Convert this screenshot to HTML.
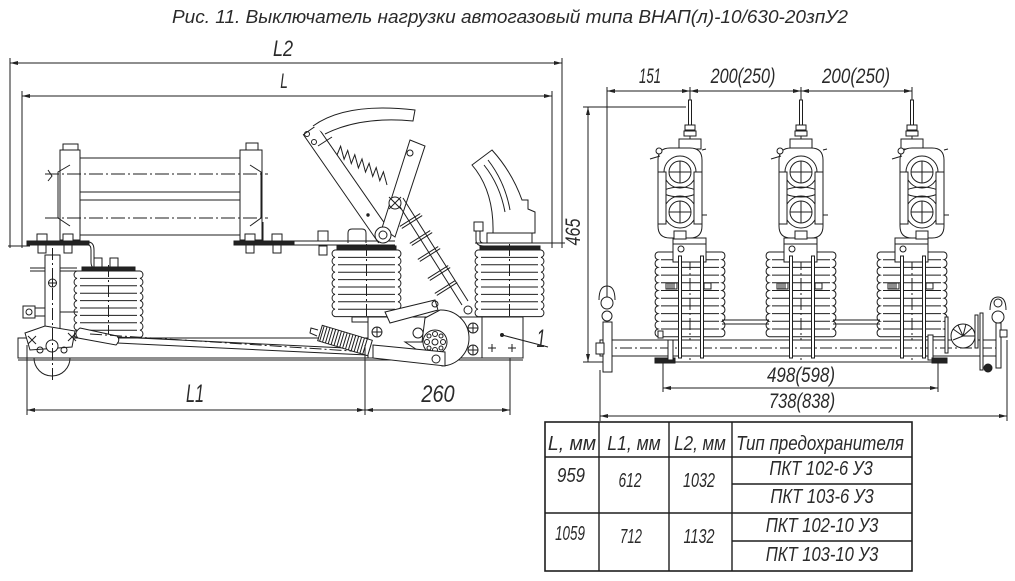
<!DOCTYPE html>
<html><head><meta charset="utf-8"><style>
html,body{margin:0;padding:0;background:#fff;}
svg{display:block}
.t text{font-family:"Liberation Sans","DejaVu Sans",sans-serif;font-style:italic;fill:#2a2a2a;stroke:none;}
.t .c{text-anchor:middle;}
</style></head><body>
<svg width="1015" height="581" viewBox="0 0 1015 581" xmlns="http://www.w3.org/2000/svg">
<defs>
<marker id="ar" markerUnits="userSpaceOnUse" markerWidth="8" markerHeight="4" refX="8" refY="2" orient="auto-start-reverse"><path d="M0,0L8,2L0,4Z" fill="#222" stroke="none"/></marker>
<g id="insL">
<path fill="#fff" d="M0,0 a3.8,3.8 0 0 0 0,7.4 a3.8,3.8 0 0 0 0,7.4 a3.8,3.8 0 0 0 0,7.4 a3.8,3.8 0 0 0 0,7.4 a3.8,3.8 0 0 0 0,7.4 a3.8,3.8 0 0 0 0,7.4 a3.8,3.8 0 0 0 0,7.4 a3.8,3.8 0 0 0 0,7.4 a3.8,3.8 0 0 0 0,7.4 L63,66.6 a3.8,3.8 0 0 0 0,-7.4 a3.8,3.8 0 0 0 0,-7.4 a3.8,3.8 0 0 0 0,-7.4 a3.8,3.8 0 0 0 0,-7.4 a3.8,3.8 0 0 0 0,-7.4 a3.8,3.8 0 0 0 0,-7.4 a3.8,3.8 0 0 0 0,-7.4 a3.8,3.8 0 0 0 0,-7.4 a3.8,3.8 0 0 0 0,-7.4 Z"/>
<path d="M3,7.4H60M3,14.8H60M3,22.2H60M3,29.6H60M3,37H60M3,44.4H60M3,51.8H60M3,59.2H60"/>
<path d="M31.5,-6V72" stroke-dasharray="12,3,2,3"/>
</g>
<g id="pb">
<path fill="#fff" d="M-32,252 a4,4 0 0 0 0,7.7 a4,4 0 0 0 0,7.7 a4,4 0 0 0 0,7.7 a4,4 0 0 0 0,7.7 a4,4 0 0 0 0,7.7 a4,4 0 0 0 0,7.7 a4,4 0 0 0 0,7.7 a4,4 0 0 0 0,7.7 a4,4 0 0 0 0,7.7 a4,4 0 0 0 0,7.7 a4,4 0 0 0 0,7.7 L32,336.7 a4,4 0 0 0 0,-7.7 a4,4 0 0 0 0,-7.7 a4,4 0 0 0 0,-7.7 a4,4 0 0 0 0,-7.7 a4,4 0 0 0 0,-7.7 a4,4 0 0 0 0,-7.7 a4,4 0 0 0 0,-7.7 a4,4 0 0 0 0,-7.7 a4,4 0 0 0 0,-7.7 a4,4 0 0 0 0,-7.7 a4,4 0 0 0 0,-7.7 Z"/>
<path d="M-29,259.7H29M-29,267.4H29M-29,275.1H29M-29,282.8H29M-29,290.5H29M-29,298.2H29M-29,305.9H29M-29,313.6H29M-29,321.3H29M-29,329H29"/>
<path d="M0,87V148"/>
<path d="M0,238V360" stroke-dasharray="12,3,2,3"/>
<rect x="-1.5" y="100" width="3" height="26" fill="#fff"/>
<rect x="-5" y="125" width="10" height="5" fill="#fff"/>
<rect x="-6" y="131" width="12" height="5" fill="#fff"/>
<rect x="-11" y="139" width="22" height="10" fill="#fff"/>
<rect x="-17" y="238" width="33" height="24" fill="#fff"/>
<path d="M-17,244H16"/>
<circle cx="-9" cy="249" r="3"/>
<rect x="-24" y="283" width="11" height="6" fill="#fff"/>
<path d="M-22,283v6M-20,283v6M-18,283v6M-16,283v6"/>
<rect x="14" y="283" width="7" height="6" fill="#fff"/>
</g>
<g id="bars">
<rect x="-11.5" y="256" width="3" height="102" fill="#fff"/>
<rect x="10.5" y="256" width="3" height="102" fill="#fff"/>
</g>
<g id="ch">
<path fill="#fff" d="M-22,160Q-22,148 -10,148H10Q22,148 22,160V226Q22,238 10,238H-10Q-22,238 -22,226Z"/>
<circle cx="0" cy="172" r="16"/>
<circle cx="0" cy="172" r="11"/>
<circle cx="0" cy="212" r="16"/>
<circle cx="0" cy="212" r="11"/>
<path d="M-11,172H11M0,161V183M-11,212H11M0,201V223"/>
<path d="M-16,190Q0,184 16,190M-16,194Q0,200 16,194"/>
<rect x="-22" y="172" width="8" height="52" fill="#fff"/>
<rect x="14" y="172" width="8" height="52" fill="#fff"/>
<circle cx="-21" cy="151" r="3" fill="#fff"/>
<path d="M-30,159L-20,156"/>
<rect x="-6" y="231" width="12" height="8" fill="#fff"/>
<path d="M22,150L26,149M22,215L27,215"/>
</g>
</defs>

<g fill="none" stroke="#1e1e1e" stroke-width="1">
<!-- LEFT VIEW dimensions -->
<path d="M10,63H562" marker-start="url(#ar)" marker-end="url(#ar)"/>
<path d="M22,96H552" marker-start="url(#ar)" marker-end="url(#ar)"/>
<path d="M10,58V248M562,58V248M22,91V248M552,91V248"/>
<path d="M8,246H30"/>
<!-- fuse -->
<rect x="80" y="158" width="160" height="77" fill="#fff"/>
<path d="M80,192H240M80,200H240"/>
<rect x="60" y="150" width="20" height="90" fill="#fff"/>
<path d="M70,165L58,172V218L70,226"/>
<rect x="240" y="150" width="22" height="90" fill="#fff"/>
<path d="M250,165L261,172V218L250,226"/>
<rect x="63" y="144" width="15" height="6" fill="#fff"/>
<rect x="246" y="143" width="12" height="7" fill="#fff"/>
<path d="M263,222V245M48,170l4,6l-4,5"/>
<path d="M45,174H268M45,218H268" stroke-dasharray="14,3,2,3"/>
<!-- plates & bolts -->
<rect x="27" y="241" width="62" height="4" fill="#222"/>
<rect x="234" y="241" width="60" height="4" fill="#222"/>
<path d="M294,241H395M294,245H395"/>
<rect x="37" y="234" width="10" height="7" fill="#fff"/>
<rect x="38" y="245" width="8" height="8" fill="#fff"/>
<rect x="63" y="234" width="10" height="7" fill="#fff"/>
<rect x="64" y="245" width="8" height="8" fill="#fff"/>
<rect x="245" y="234" width="10" height="7" fill="#fff"/>
<rect x="246" y="245" width="8" height="8" fill="#fff"/>
<rect x="272" y="234" width="10" height="7" fill="#fff"/>
<rect x="273" y="245" width="8" height="8" fill="#fff"/>
<path d="M88,242Q94,242 94,250V262Q94,267 100,267H112M88,245Q91,245 91,250V262Q91,270 100,270H112"/>
<!-- left insulator -->
<use href="#insL" x="77" y="271"/>
<rect x="82" y="267" width="53" height="4" fill="#222"/>
<rect x="94" y="258" width="8" height="9" fill="#fff"/>
<rect x="110" y="258" width="8" height="9" fill="#fff"/>
<!-- left drive post -->
<path d="M30,268H77M30,271H77"/>
<rect x="45" y="255" width="15" height="75" fill="#fff"/>
<circle cx="52.5" cy="283" r="4"/>
<path d="M48,283h9M52.5,279v8"/>
<rect x="23" y="306" width="12" height="12" fill="#fff"/>
<circle cx="29" cy="312" r="3"/>
<path d="M35,308H45M35,316H45M60,312H78"/>
<!-- base frame -->
<rect x="18" y="338" width="350" height="20" fill="#fff"/>
<path d="M18,360H523"/>
<path d="M25,333L45,326L75,331L72,347L30,350Z" fill="#fff"/>
<circle cx="52" cy="346" r="6" fill="#fff"/>
<circle cx="40" cy="350" r="3"/>
<circle cx="64" cy="350" r="3"/>
<path d="M28,336l8,8M36,336l-8,8M68,333l8,8M76,333l-8,8"/>
<path d="M34,358A18,18 0 0 0 70,358"/>
<path d="M52.5,248V380" stroke-dasharray="12,3,2,3"/>
<!-- drive rod -->
<path d="M80,328L117,336Q121,340 116,345L78,338Q73,333 80,328Z" fill="#fff"/>
<path d="M117,337L367,349M117,343L367,355"/>
<path d="M90,334L367,352" stroke-dasharray="12,3,2,3"/>
<!-- middle & right insulators -->
<use href="#insL" x="335" y="250"/>
<use href="#insL" x="478" y="250"/>
<rect x="337" y="246" width="59" height="4" fill="#222"/>
<rect x="480" y="246" width="60" height="4" fill="#222"/>
<path d="M348,243V233Q348,229 352,229H362Q366,229 366,233V243"/>
<rect x="318" y="231" width="10" height="10" fill="#fff"/>
<rect x="319" y="246" width="8" height="9" fill="#fff"/>
<!-- knife blade -->
<path d="M303.4,134.6L316.6,125.4L391.6,233.4L378.4,242.6Z" fill="#fff"/>
<path d="M313,126Q346,102 415,110L413,121Q361,116 325,134" fill="#fff"/>
<circle cx="307" cy="134" r="2.5"/>
<circle cx="314" cy="142" r="2.5"/>
<path d="M318,146L332,137"/>
<path d="M337,155L340.6,146.2L344.1,159.3L347.7,150.4L351.3,163.6L354.8,154.7L358.4,167.9L362,159L365.5,172.1L369.1,163.3L372.7,176.4L376.2,167.6L379.8,180.7L383.4,171.8L387,185"/>
<path d="M410,140L425,146L395,237L382,228Z" fill="#fff"/>
<circle cx="410" cy="153" r="3"/>
<circle cx="383" cy="235" r="8" fill="#fff"/>
<circle cx="383" cy="235" r="4"/>
<circle cx="368" cy="215" r="1.2" fill="#222"/>
<!-- insulating rod -->
<path d="M397,202L462,305M403,198L468,301"/>
<path d="M399.8,226.4L420.2,213.6M409.8,243.4L430.2,230.6M417.8,259.4L438.2,246.6M427.8,278.4L448.2,265.6M434.8,293.4L455.2,280.6"/>
<path d="M401.8,228.4L422.2,215.6M411.8,245.4L432.2,232.6M419.8,261.4L440.2,248.6M429.8,280.4L450.2,267.6M436.8,295.4L457.2,282.6"/>
<circle cx="395" cy="203" r="6" fill="#fff"/>
<path d="M389,197l12,12M401,197l-12,12"/>
<circle cx="468" cy="310" r="4" fill="#fff"/>
<!-- right contact horn -->
<path d="M472,165L492,150Q512,172 522,200L528,200V209L535,212V233H493Q494,195 476,170Z" fill="#fff"/>
<path d="M488,160Q505,182 510,210M484,165Q500,185 505,212"/>
<rect x="487" y="233" width="45" height="10" fill="#fff"/>
<path d="M475,243H565"/>
<rect x="474" y="222" width="9" height="9" fill="#fff"/>
<path d="M476,231V240Q476,246 484,246H490M480,231V240Q480,243 484,243"/>
<!-- mechanism base -->
<rect x="352" y="317" width="30" height="5" fill="#fff"/>
<rect x="482" y="317" width="28" height="5" fill="#fff"/>
<rect x="368" y="317" width="114" height="41" fill="#fff"/>
<rect x="482" y="317" width="41" height="41" fill="#fff"/>
<circle cx="377" cy="332" r="5"/><path d="M372,332h10M377,327v10"/>
<circle cx="377" cy="350" r="4"/><path d="M373,350h8M377,346v8"/>
<circle cx="473" cy="328" r="5"/><path d="M468,328h10M473,323v10"/>
<circle cx="473" cy="350" r="5"/><path d="M468,350h10M473,345v10"/>
<path d="M488,348h8M492,344v8M508,348h8M512,344v8"/>
<path d="M440,310A28,28 0 0 1 442,366L425,355L405,342L422,342L425,318Z" fill="#fff"/>
<circle cx="435" cy="342" r="12" fill="#fff"/>
<circle cx="435" cy="342" r="3"/>
<circle cx="435" cy="334" r="2.5"/><circle cx="443" cy="342" r="2.5"/><circle cx="435" cy="350" r="2.5"/><circle cx="427" cy="342" r="2.5"/>
<circle cx="441" cy="336" r="2"/><circle cx="441" cy="348" r="2"/><circle cx="429" cy="348" r="2"/><circle cx="429" cy="336" r="2"/>
<circle cx="418" cy="333" r="5" fill="#fff"/>
<path d="M385,312L435,300L438,310L390,323Z" fill="#fff"/>
<circle cx="435" cy="304" r="3"/>
<path d="M373,345L445,352L445,366L373,358Z" fill="#fff"/>
<circle cx="436" cy="359" r="4"/>
<!-- spring -->
<path d="M322.3,325.3L372.3,340.3L367.7,355.7L317.7,340.7Z" fill="#fff"/>
<path d="M324.2,325.9L319.6,341.3M327.1,326.7L322.5,342.1M330,327.6L325.4,343M332.8,328.5L328.2,343.9M335.7,329.3L331.1,344.7M338.6,330.2L334,345.6M341.5,331L336.9,346.4M344.3,331.9L339.7,347.3M347.2,332.8L342.6,348.2M350.1,333.6L345.5,349M353,334.5L348.4,349.9M355.8,335.3L351.2,350.7M358.7,336.2L354.1,351.6M361.6,337.1L357,352.5M364.5,337.9L359.9,353.3M367.3,338.8L362.7,354.2"/>
<path d="M318,330L311,328L310,333L317,336"/>
<!-- leader 1 -->
<circle cx="502" cy="335" r="1.5" fill="#222"/>
<path d="M502,335L548,347"/>
<!-- L1 / 260 dims -->
<path d="M27,345V415M365,345V415M510,358V415"/>
<path d="M27,410H365" marker-start="url(#ar)" marker-end="url(#ar)"/>
<path d="M365,410H510" marker-start="url(#ar)" marker-end="url(#ar)"/>

<!-- RIGHT VIEW -->
<path d="M607,87V300"/>
<path d="M607,91H690" marker-start="url(#ar)" marker-end="url(#ar)"/>
<path d="M690,91H801" marker-start="url(#ar)" marker-end="url(#ar)"/>
<path d="M801,91H912" marker-start="url(#ar)" marker-end="url(#ar)"/>
<path d="M583,107H686M583,362H604"/>
<path d="M588,107V362" marker-start="url(#ar)" marker-end="url(#ar)"/>
<use href="#pb" x="690"/>
<use href="#pb" x="801"/>
<use href="#pb" x="912"/>
<use href="#ch" x="680"/>
<use href="#ch" x="801"/>
<use href="#ch" x="922"/>
<!-- shaft -->
<rect x="600" y="340" width="400" height="16" fill="#fff"/>
<path d="M600,348H1000" stroke-dasharray="12,3,2,3"/>
<path d="M655,362H945"/>
<path d="M722,320H769M722,324H769M833,320H880M833,324H880"/>
<use href="#bars" x="690"/>
<use href="#bars" x="801"/>
<use href="#bars" x="912"/>
<!-- left end -->
<path d="M599,300Q599,286 607,286Q615,286 615,300"/>
<circle cx="607" cy="303" r="6" fill="#fff"/>
<circle cx="607" cy="316" r="5" fill="#fff"/>
<rect x="603" y="322" width="9" height="50" fill="#fff"/>
<rect x="596" y="343" width="8" height="11" fill="#fff"/>
<rect x="655" y="358" width="20" height="5" fill="#222"/>
<rect x="668" y="340" width="5" height="20" fill="#fff"/>
<rect x="658" y="331" width="5" height="7" fill="#fff"/>
<!-- right end -->
<rect x="928" y="335" width="5" height="25" fill="#fff"/>
<rect x="932" y="358" width="15" height="5" fill="#222"/>
<rect x="945" y="317" width="3" height="36" fill="#fff"/>
<circle cx="963" cy="336" r="12" fill="#fff"/>
<path d="M963,336L953,329M963,336L958,325M963,336L966,324M963,336L972,328M963,336L975,336M963,336L953,340"/>
<rect x="975" y="315" width="3" height="33" fill="#fff"/>
<rect x="980" y="313" width="3" height="57" fill="#fff"/>
<path d="M990,310Q990,297 998,297Q1006,297 1006,310"/>
<circle cx="998" cy="303" r="4"/>
<circle cx="998" cy="317" r="6" fill="#fff"/>
<rect x="996" y="323" width="5" height="45" fill="#fff"/>
<rect x="1000" y="330" width="7" height="7" fill="#fff"/>
<circle cx="988" cy="368" r="4" fill="#222"/>
<!-- bottom dims -->
<path d="M663,362V392M938,362V392"/>
<path d="M663,388H938" marker-start="url(#ar)" marker-end="url(#ar)"/>
<path d="M600,370V421M1007,340V421"/>
<path d="M600,416H1007" marker-start="url(#ar)" marker-end="url(#ar)"/>

<!-- TABLE -->
<rect x="545" y="422" width="367" height="149" stroke-width="1.6"/>
<path stroke-width="1.4" d="M545,457H912M545,513H912M732,484H912M732,541H912M599,422V571M669,422V571M732,422V571"/>
</g>

<g class="t">
<text x="172" y="23" font-size="18" textLength="676" lengthAdjust="spacingAndGlyphs">Рис. 11. Выключатель нагрузки автогазовый типа ВНАП(л)-10/630-20зпУ2</text>
<text class="c" transform="translate(283,56) scale(0.82,1)" font-size="22">L2</text>
<text class="c" transform="translate(284,88) scale(0.65,1)" font-size="21">L</text>
<text class="c" transform="translate(195,402) scale(0.65,1)" font-size="25">L1</text>
<text class="c" transform="translate(438,402) scale(0.83,1)" font-size="24">260</text>
<text class="c" transform="translate(541,347) scale(0.65,1)" font-size="25">1</text>
<text class="c" transform="translate(580,232) rotate(-90) scale(0.77,1)" font-size="21">465</text>
<text class="c" transform="translate(650,83) scale(0.63,1)" font-size="21">151</text>
<text class="c" transform="translate(743,83) scale(0.77,1)" font-size="21">200(250)</text>
<text class="c" transform="translate(856,83) scale(0.81,1)" font-size="21">200(250)</text>
<text class="c" transform="translate(801,382) scale(0.81,1)" font-size="21">498(598)</text>
<text class="c" transform="translate(802,408) scale(0.79,1)" font-size="21">738(838)</text>
<text class="c" transform="translate(572,450) scale(0.97,1)" font-size="20">L, мм</text>
<text class="c" transform="translate(634,450) scale(0.88,1)" font-size="20">L1, мм</text>
<text class="c" transform="translate(700,450) scale(0.85,1)" font-size="20">L2, мм</text>
<text class="c" transform="translate(820,450) scale(0.85,1)" font-size="20">Тип предохранителя</text>
<text class="c" transform="translate(571,482) scale(0.84,1)" font-size="20">959</text>
<text class="c" transform="translate(630,487) scale(0.69,1)" font-size="20">612</text>
<text class="c" transform="translate(699,487) scale(0.72,1)" font-size="20">1032</text>
<text class="c" transform="translate(821,475) scale(0.83,1)" font-size="20">ПКТ 102-6 У3</text>
<text class="c" transform="translate(822,503) scale(0.83,1)" font-size="20">ПКТ 103-6 У3</text>
<text class="c" transform="translate(570,540) scale(0.67,1)" font-size="20">1059</text>
<text class="c" transform="translate(631,543) scale(0.66,1)" font-size="20">712</text>
<text class="c" transform="translate(699,543) scale(0.72,1)" font-size="20">1132</text>
<text class="c" transform="translate(822,532) scale(0.83,1)" font-size="20">ПКТ 102-10 У3</text>
<text class="c" transform="translate(822,561) scale(0.83,1)" font-size="20">ПКТ 103-10 У3</text>
</g>
</svg>
</body></html>
